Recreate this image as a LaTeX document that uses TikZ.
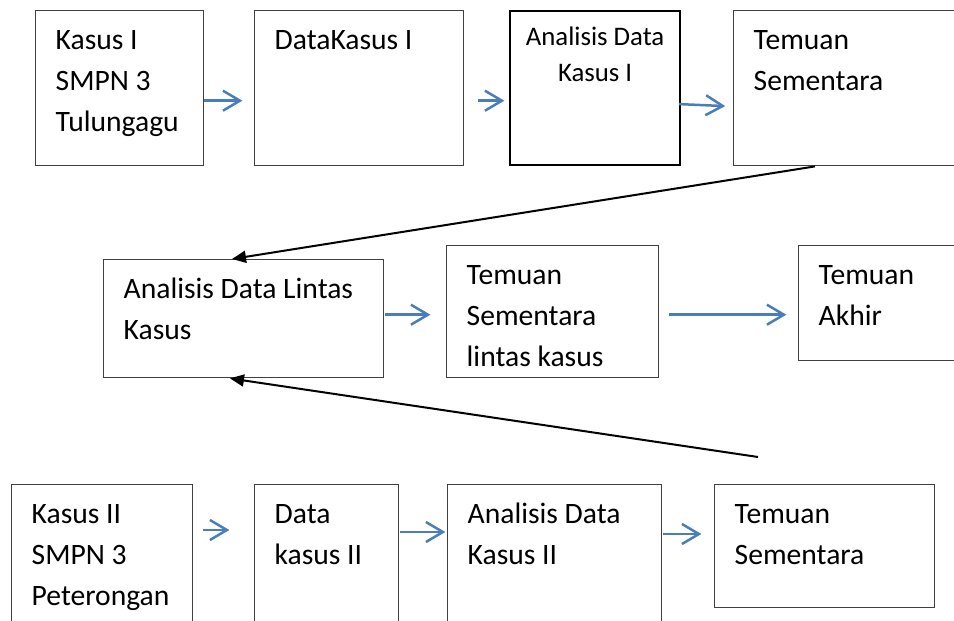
\documentclass[tikz,border=0pt]{standalone}
\usepackage{fontspec}
\setmainfont{Carlito}
\usepackage{xcolor}
\usetikzlibrary{arrows.meta,calc}

\definecolor{panahbiru}{HTML}{4A7EBB}
\newdimen\px \px=0.5pt
% isi kotak: teks rata kiri, mulai dari atas
\newcommand{\kiri}[3]{\parbox[c][#2\px][t]{#1\px}{\fontsize{14.8}{20.5}\selectfont
  \raggedright\leftskip=10pt\vspace*{5.2pt}\strut #3}}
% isi kotak: teks di tengah, huruf lebih kecil
\newcommand{\tengah}[3]{\parbox[c][#2\px][t]{#1\px}{\fontsize{13.4}{18}\selectfont
  \centering\vspace*{4.6pt}\strut #3}}

\begin{document}
\begin{tikzpicture}[x=0.5pt,y=-0.5pt,
    kotak/.style={draw=black!75,line width=0.7pt,inner sep=0pt,anchor=north west},
    biru/.style={draw=panahbiru,line width=1.25pt,-{Straight Barb[length=8.5pt,width=10pt]}},
    hitam/.style={line width=1pt,-{Triangle[length=7pt,width=6pt]}}]
    \useasboundingbox (0,0) rectangle (954,621);
    \clip (0,0) rectangle (954,621);

    % kasus I
    \node[kotak] (k1) at (35,10) {\kiri{168}{155}{Kasus I\\SMPN 3\\Tulungagu}};
    \node[kotak] (k2) at (254,10) {\kiri{209}{155}{DataKasus I}};
    \node[kotak,draw=black,line width=1.1pt] (k3) at (509,10) {\tengah{170}{154}{Analisis Data\\Kasus I}};
    \node[kotak] (k4) at (733,10) {\kiri{240}{155}{Temuan\\Sementara}};
    \draw[biru] ($(k1.east)+(0,12.5)$) -- ++(38,0);
    \draw[biru] ($(k2.east)+(14,12.5)$) -- ++(26,0);
    \draw[biru] ($(k3.east)+(-2,16)$) -- ++(46,2);

    % lintas kasus
    \node[kotak] (k5) at (103,259) {\kiri{280}{118}{Analisis Data Lintas\\Kasus}};
    \node[kotak] (k6) at (446,245) {\kiri{212}{132}{Temuan\\Sementara\\lintas kasus}};
    \node[kotak] (k7) at (798,245) {\kiri{180}{115}{Temuan\\Akhir}};
    \draw[biru] ($(k5.east)+(1,-4)$) -- ++(45,0);
    \draw[biru] ($(k6.east)+(10,3)$) -- ++(117,0);

    % kasus II
    \node[kotak] (k8) at (11,484) {\kiri{181}{160}{Kasus II\\SMPN 3\\Peterongan}};
    \node[kotak] (k9) at (254,484) {\kiri{144}{160}{Data\\kasus II}};
    \node[kotak] (k10) at (447,484) {\kiri{214}{160}{Analisis Data\\Kasus II}};
    \node[kotak] (k11) at (714,484) {\kiri{220}{123}{Temuan\\Sementara}};
    \draw[biru] ($(k8.north east)+(10,46)$) -- ++(26,0);
    \draw[biru] ($(k9.north east)+(1,48)$) -- ++(45,0);
    \draw[biru] ($(k10.north east)+(1,50)$) -- ++(38,0);

    % ke analisis lintas kasus
    \coordinate (ujung) at (758,457);
    \draw[hitam] ($(k4.south west)+(82,0)$) -- ($(k5.north west)+(129,0)$);
    \draw[hitam] (ujung) -- ($(k5.south west)+(127,0)$);
\end{tikzpicture}
\end{document}
